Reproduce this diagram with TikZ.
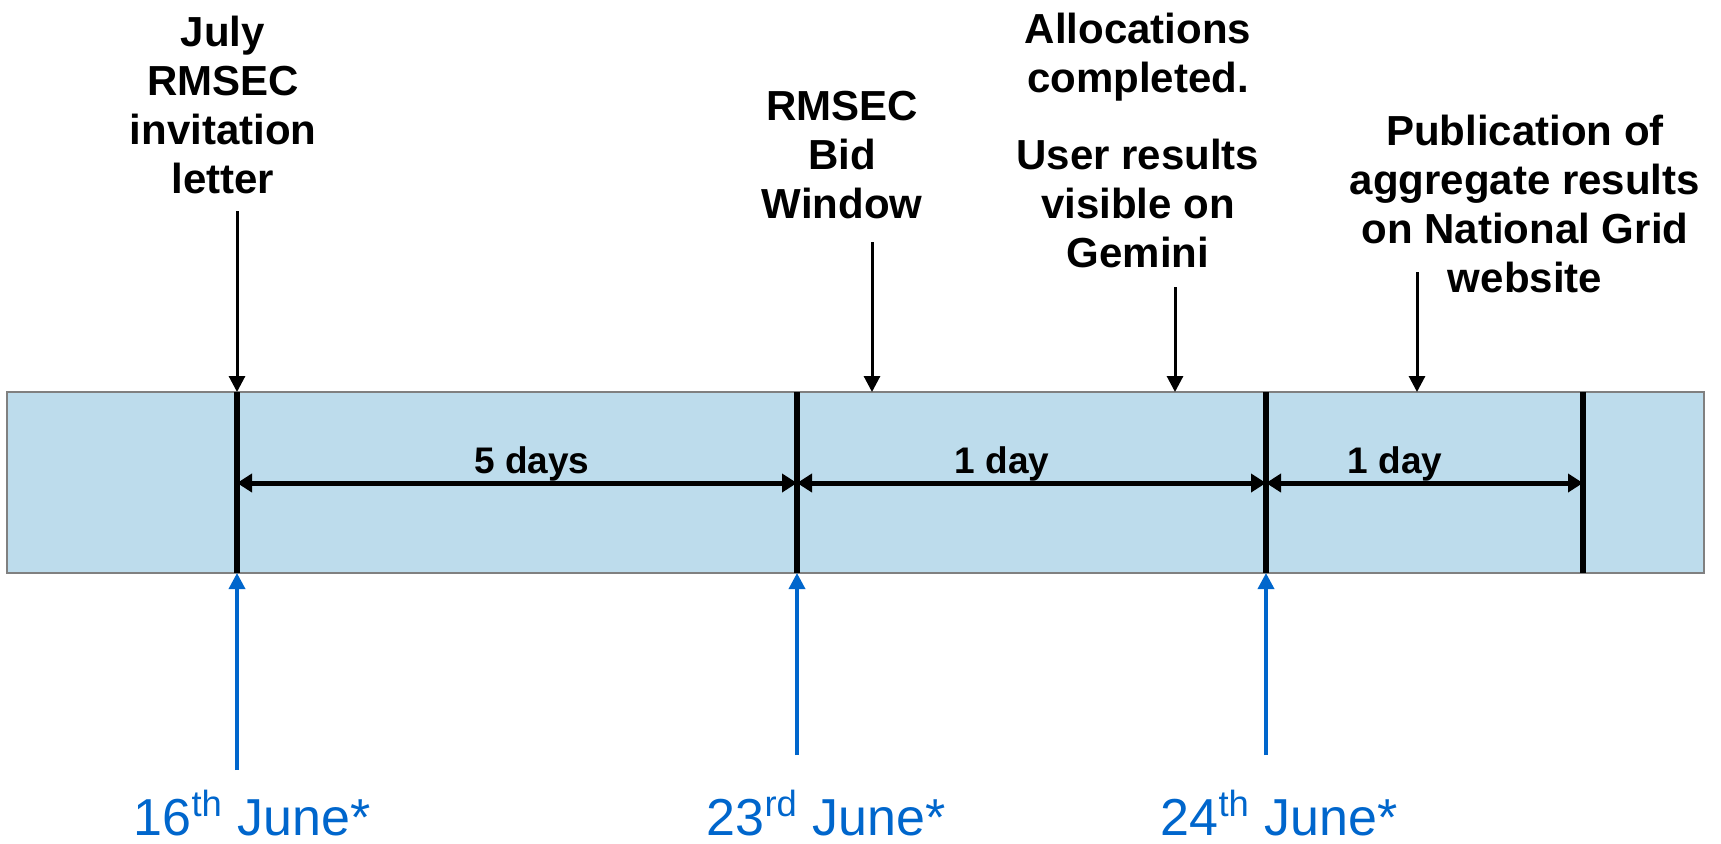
\documentclass[tikz,border=0pt]{standalone}
\usepackage{fontspec}
\setmainfont{Liberation Sans}
\usetikzlibrary{arrows.meta}

\definecolor{barblue}{RGB}{189,220,236}
\definecolor{dateblue}{RGB}{0,102,204}

\begin{document}
\begin{tikzpicture}[x=0.5pt,y=-0.5pt]
  \tikzset{eventlabel/.style = {align=center,anchor=base,inner sep=0pt,font=\bfseries\fontsize{21pt}{24.5pt}\selectfont}}
  \tikzset{spanlabel/.style = {anchor=base,inner sep=0pt,font=\bfseries\fontsize{18.5pt}{22pt}\selectfont}}
  \tikzset{datelabel/.style = {anchor=base,inner sep=0pt,text=dateblue,font=\fontsize{26pt}{30pt}\selectfont}}
  \tikzset{markarrow/.style = {-{Triangle[length=8pt,width=8pt]},line width=1.5pt}}
  \tikzset{spanarrow/.style = {{Triangle[length=7.5pt,width=9pt]}-{Triangle[length=7.5pt,width=9pt]},line width=2.5pt}}
  \tikzset{datearrow/.style = {-{Triangle[length=8pt,width=8pt]},line width=1.75pt,draw=dateblue}}
  \tikzset{divline/.style = {line width=2.75pt}}

  \useasboundingbox (0,0) rectangle (1721,843);

  % the bar
  \draw[fill=barblue,draw=gray,line width=0.75pt] (7,392) rectangle (1704,573);

  \coordinate (d1t) at (237,392); \coordinate (d1b) at (237,573);
  \coordinate (d2t) at (797,392); \coordinate (d2b) at (797,573);
  \coordinate (d3t) at (1266,392); \coordinate (d3b) at (1266,573);
  \coordinate (d4t) at (1583,392); \coordinate (d4b) at (1583,573);

  \foreach \from/\to in {d1t/d1b, d2t/d2b, d3t/d3b, d4t/d4b}
    \draw[divline] (\from) -- (\to);

  % spans
  \coordinate (m1) at (237,483);
  \coordinate (m2) at (797,483);
  \coordinate (m3) at (1266,483);
  \coordinate (m4) at (1583,483);

  \foreach \from/\to in {m1/m2, m2/m3, m3/m4}
    \draw[spanarrow] (\from) -- (\to);

  \node[spanlabel] (five) at (532,473) {5 days};
  \node[spanlabel] (oneA) at (1002,473) {1 day};
  \node[spanlabel] (oneB) at (1395,473) {1 day};

  % events above
  \node[eventlabel] (letter) at (223,193) {July\\RMSEC\\invitation\\letter};
  \node[eventlabel] (window) at (842,218) {RMSEC\\Bid\\Window};
  \node[eventlabel] (alloc) at (1138,267) {Allocations\\completed.\\[14pt]User results\\visible on\\Gemini};
  \node[eventlabel] (publish) at (1525,292) {Publication of\\aggregate results\\on National Grid\\website};

  \coordinate (a1) at (237,211); \coordinate (b1) at (237,392);
  \coordinate (a2) at (872,242); \coordinate (b2) at (872,392);
  \coordinate (a3) at (1175,287); \coordinate (b3) at (1175,392);
  \coordinate (a4) at (1417,272); \coordinate (b4) at (1417,392);

  \foreach \from/\to in {a1/b1, a2/b2, a3/b3, a4/b4}
    \draw[markarrow] (\from) -- (\to);

  % dates below
  \coordinate (s1) at (237,770);
  \coordinate (s2) at (797,755);
  \coordinate (s3) at (1266,755);

  \foreach \from/\to in {s1/d1b, s2/d2b, s3/d3b}
    \draw[datearrow] (\from) -- (\to);

  \node[datelabel] (june16) at (252,835) {16\textsuperscript{th} June*};
  \node[datelabel] (june23) at (826,835) {23\textsuperscript{rd} June*};
  \node[datelabel] (june24) at (1279,835) {24\textsuperscript{th} June*};
\end{tikzpicture}
\end{document}
